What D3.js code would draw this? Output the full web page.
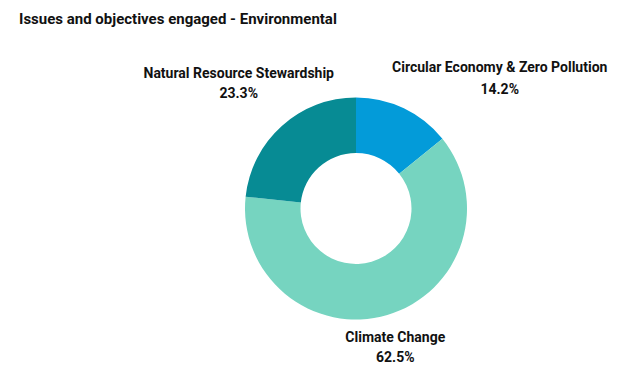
<!DOCTYPE html>
<html>
<head>
<meta charset="utf-8">
<script src="https://cdn.jsdelivr.net/npm/d3@7"></script>
<style>
  body { margin: 0; background: #fff; }
  text { font-family: Roboto, "Noto Sans", sans-serif; fill: #111; }
</style>
</head>
<body>
<script>
// data
let categories = ["Circular Economy & Zero Pollution", "Climate Change", "Natural Resource Stewardship"];
let values = [14.2, 62.5, 23.3];
let colours = ["#039bd9", "#76d4c0", "#078b94"];

let w = 631, h = 373;
let cx = 356, cy = 208.5;
let outerR = 111, innerR = 55.5;

// nudges so labels sit clear of the ring
let labelNudge = {
  "Circular Economy & Zero Pollution": [79, 4],
  "Climate Change": [-3, -5],
  "Natural Resource Stewardship": [-17, -14]
};

let svg = d3.select("body")
  .append("svg")
    .attr("width", w)
    .attr("height", h);

svg.append("text")
  .attr("x", 19)
  .attr("y", 24)
  .attr("font-size", 15)
  .attr("font-weight", "bold")
  .text("Issues and objectives engaged - Environmental");

let data = categories.map((c, i) => ({ name: c, value: values[i], colour: colours[i] }));

let pie = d3.pie().sort(null).value(d => d.value);
let arc = d3.arc().innerRadius(innerR).outerRadius(outerR);
let labelArc = d3.arc().innerRadius(150).outerRadius(150);

let g = svg.append("g").attr("transform", `translate(${cx},${cy})`);

g.selectAll("path")
  .data(pie(data))
  .join("path")
    .attr("d", arc)
    .attr("fill", d => d.data.colour);

let labels = g.selectAll("g.label")
  .data(pie(data))
  .join("g")
    .attr("class", "label")
    .attr("transform", d => {
      let [x, y] = labelArc.centroid(d);
      let n = labelNudge[d.data.name];
      return `translate(${x + n[0]},${y + n[1]})`;
    });

labels.append("text")
  .attr("text-anchor", "middle")
  .attr("y", -5)
  .attr("font-size", 14)
  .attr("font-weight", "bold")
  .text(d => d.data.name);

labels.append("text")
  .attr("text-anchor", "middle")
  .attr("y", d => d.data.name.length > 30 ? 16.5 : 15)
  .attr("font-size", 14)
  .attr("font-weight", "bold")
  .text(d => d.data.value.toFixed(1) + "%");
</script>
</body>
</html>
